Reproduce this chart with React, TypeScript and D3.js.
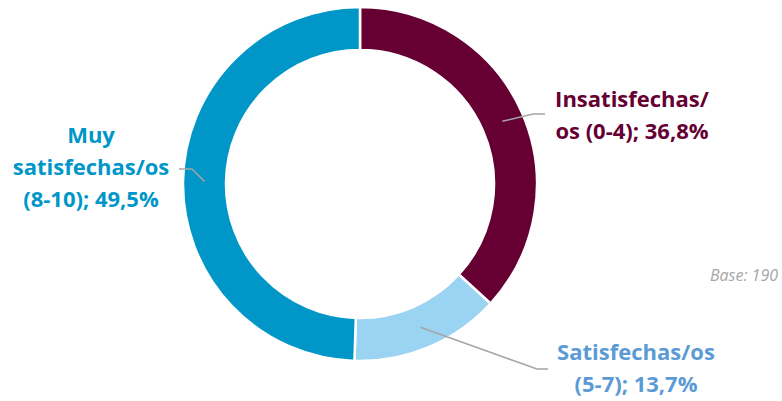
import React from "react";
import * as d3 from "d3";

const categories = ["Insatisfechas/os (0-4)", "Satisfechas/os (5-7)", "Muy satisfechas/os (8-10)"];
const values = [36.8, 13.7, 49.5];
const labelLines = [
  ["Insatisfechas/", "os (0-4); 36,8%"],
  ["Satisfechas/os", "(5-7); 13,7%"],
  ["Muy", "satisfechas/os", "(8-10); 49,5%"],
];
const sliceColors = ["#660033", "#9BD3F2", "#0096C8"];
const labelColors = ["#660033", "#5B9BD5", "#0096C8"];
const baseNote = "Base: 190";

const W = 782;
const H = 401;
const cx = 360;
const cy = 184;
const R = 177;
const r = 134;

// label layout: anchor center x, first baseline y, elbow & end of leader
const labelLayout = [
  { x: 632, y: 107, elbow: [533, 114], end: [545, 114] },
  { x: 636, y: 360, elbow: [537, 369], end: [548, 369] },
  { x: 91, y: 143, elbow: [192, 169], end: [179, 169] },
];

export default function App() {
  const pie = d3.pie<number>().sort(null).value((d) => d);
  const arcs = pie(values);
  const arc = d3.arc<d3.PieArcDatum<number>>().innerRadius(r).outerRadius(R);
  const line = d3.line();
  const lineH = 32;
  return (
    <svg
      width={W}
      height={H}
      style={{ position: "absolute", left: 0, top: 0, background: "#fff" }}
      fontFamily="'Open Sans', sans-serif"
    >
      <g transform={`translate(${cx},${cy})`}>
        {arcs.map((a, i) => (
          <path key={categories[i]} d={arc(a) || ""} fill={sliceColors[i]} stroke="#fff" strokeWidth={2.5} />
        ))}
      </g>
      {arcs.map((a, i) => {
        const [px, py] = arc.centroid(a);
        const L = labelLayout[i];
        const pts: [number, number][] = [
          [cx + px, cy + py],
          L.elbow as [number, number],
          L.end as [number, number],
        ];
        return (
          <path key={"l" + i} d={line(pts) || ""} fill="none" stroke="#A6A6A6" strokeWidth={1.5} />
        );
      })}
      {labelLines.map((lines, i) => (
        <text
          key={"t" + i}
          x={labelLayout[i].x}
          y={labelLayout[i].y}
          textAnchor="middle"
          fill={labelColors[i]}
          fontWeight="bold"
          fontSize={22}
        >
          {lines.map((s, j) => (
            <tspan key={j} x={labelLayout[i].x} y={labelLayout[i].y + j * lineH}>
              {s}
            </tspan>
          ))}
        </text>
      ))}
      <text x={778} y={281} textAnchor="end" fill="#A6A6A6" fontStyle="italic" fontSize={16}>
        {baseNote}
      </text>
    </svg>
  );
}
